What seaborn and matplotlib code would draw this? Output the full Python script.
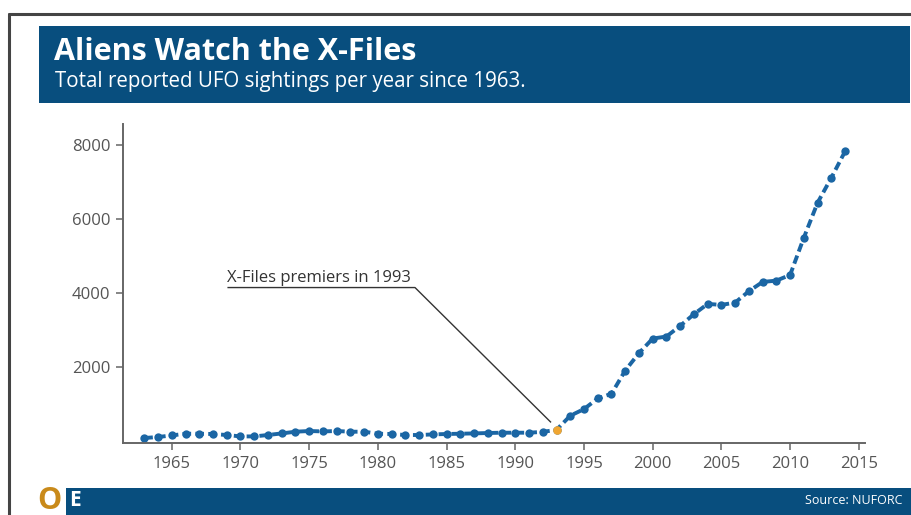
import matplotlib
matplotlib.use("Agg")
import matplotlib.pyplot as plt
from matplotlib.patches import Rectangle
from matplotlib.lines import Line2D
import seaborn as sns
import pandas as pd

# Reported UFO sightings per year (NUFORC)
years = list(range(1963, 2015))
sightings = [
    84, 111, 154, 200, 200, 192, 165, 127, 127, 165,
    208, 254, 273, 262, 273, 254, 254, 200, 192, 165,
    165, 181, 192, 200, 208, 219, 227, 227, 227, 250,
    305, 686, 866, 1153, 1279, 1908, 2378, 2772, 2826, 3115,
    3430, 3708, 3681, 3744, 4051, 4302, 4337, 4491, 5498, 6443,
    7117, 7830,
]
premiere_year = 1993
xticks = [1965, 1970, 1975, 1980, 1985, 1990, 1995, 2000, 2005, 2010, 2015]
yticks = [2000, 4000, 6000, 8000]

title = "Aliens Watch the X-Files"
subtitle = "Total reported UFO sightings per year since 1963."
note = "X-Files premiers in 1993"
source = "Source: NUFORC"

df = pd.DataFrame({"year": years, "sightings": sightings})

sns.set_theme(style="ticks")
plt.rcParams["font.family"] = ["Open Sans", "DejaVu Sans"]

W, H = 912, 515
fig = plt.figure(figsize=(W / 100, H / 100), dpi=100)
fig.patch.set_facecolor("white")


def fx(px):
    return px / W


def fy(py):
    return 1 - py / H


BLUE = "#1b66a4"
NAVY = "#084e7e"
ORANGE = "#f0a632"

# main axes
left, right, top, bottom = 123, 865, 124, 443
ax = fig.add_axes([fx(left), fy(bottom), fx(right - left), (bottom - top) / H])

sns.lineplot(data=df, x="year", y="sightings", ax=ax, color=BLUE,
             linewidth=2.8, linestyle=(0, (2.2, 1.1)), marker="o",
             markersize=6, markeredgewidth=0, markerfacecolor=BLUE)
sns.scatterplot(data=df[df["year"] == premiere_year], x="year", y="sightings",
                ax=ax, color=ORANGE, s=38, linewidth=0, zorder=5)

ax.set_xlim(1961.45, 2015.45)
ax.set_ylim(-51, 8570)
ax.set_xticks(xticks)
ax.set_yticks(yticks)
ax.set_xlabel("")
ax.set_ylabel("")
for s in ("top", "right"):
    ax.spines[s].set_visible(False)
for s in ("left", "bottom"):
    ax.spines[s].set_color("#666666")
    ax.spines[s].set_linewidth(1.4)
ax.tick_params(axis="both", colors="#666666", labelcolor="#555555",
               labelsize=12, length=5, width=1.1, pad=4)

# annotation pointing at the premiere year
prem_val = sightings[years.index(premiere_year)]
ax.text(1969.05, 4200, note, fontsize=12, color="#333333", va="bottom", ha="left")
ax.plot([1969.05, 1982.7, 1992.6], [4150, 4150, prem_val + 200],
        color="#333333", linewidth=1.0, solid_capstyle="butt")

# outer frame
fig.add_artist(Line2D([fx(9), 1], [fy(14), fy(14)], color="#444444", lw=2.2,
                      transform=fig.transFigure))
fig.add_artist(Line2D([fx(9), fx(9)], [fy(14), 0], color="#444444", lw=2.2,
                      transform=fig.transFigure))

# header banner
fig.add_artist(Rectangle((fx(39), fy(103)), fx(910 - 39), (103 - 26) / H,
                         facecolor=NAVY, edgecolor="none", transform=fig.transFigure))
fig.text(fx(54), fy(52), title, color="white", fontsize=22, fontweight="bold",
         va="center", ha="left")
fig.text(fx(55), fy(81), subtitle, color="white", fontsize=14.8,
         va="center", ha="left")

# footer banner
fig.add_artist(Rectangle((fx(66), 0), fx(912 - 66), (515 - 488) / H,
                         facecolor=NAVY, edgecolor="none", transform=fig.transFigure))
fig.text(fx(37), fy(501), "O", color="#c98a1a", fontsize=22, fontweight="bold",
         va="center", ha="left")
fig.text(fx(69), fy(501), "E", color="white", fontsize=15, fontweight="bold",
         va="center", ha="left")
fig.text(fx(903), fy(500), source, color="white", fontsize=9,
         va="center", ha="right")

fig.savefig("out.png", dpi=100)
